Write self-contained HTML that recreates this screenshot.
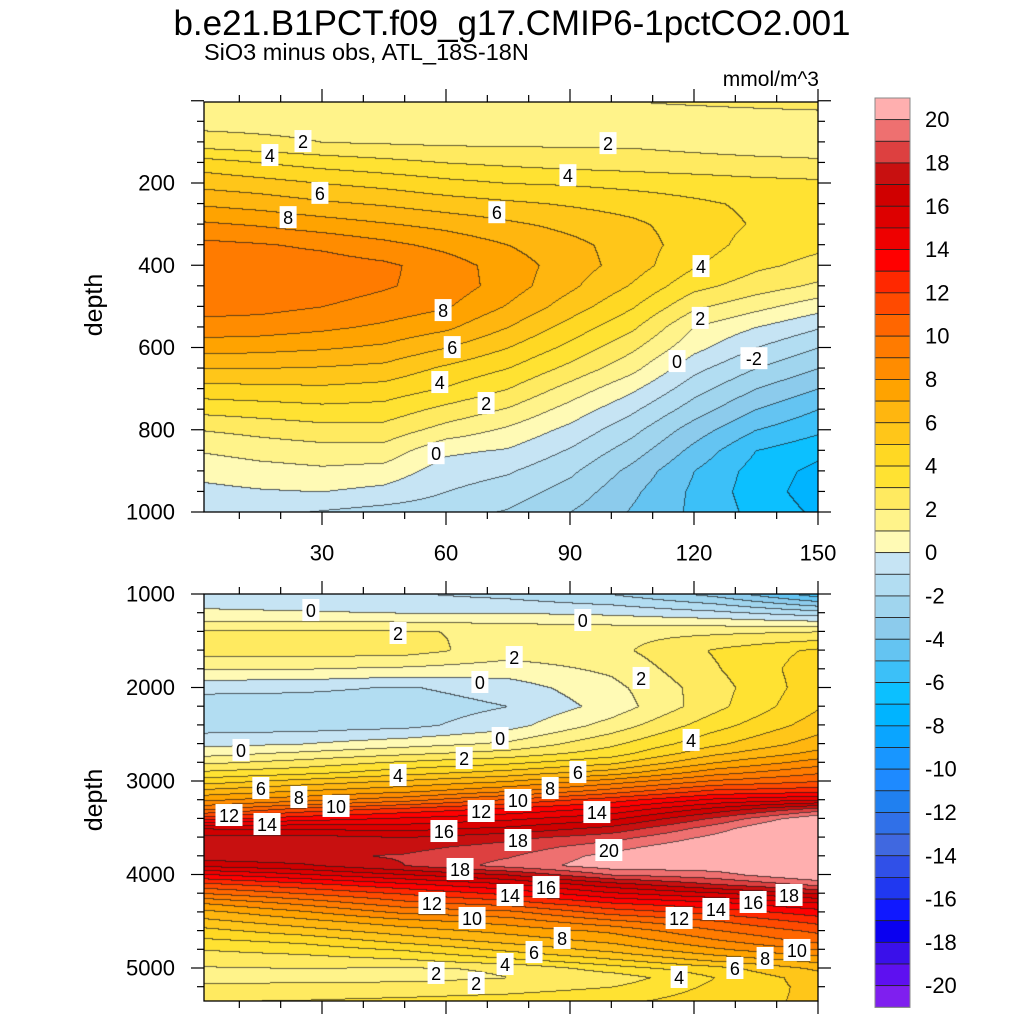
<!DOCTYPE html>
<html><head><meta charset="utf-8">
<style>
html,body{margin:0;padding:0;background:#fff;}
#wrap{position:relative;width:1024px;height:1024px;overflow:hidden;font-family:"Liberation Sans",sans-serif;}
canvas{position:absolute;}
svg{position:absolute;left:0;top:0;}
</style></head>
<body>
<div id="wrap">
<canvas id="cTop" style="left:204px;top:102px" width="614" height="410"></canvas>
<canvas id="cBot" style="left:204px;top:594px" width="614" height="407"></canvas>
<svg id="ov" width="1024" height="1024">
<text x="512" y="35" font-size="35" text-anchor="middle" font-family="Liberation Sans, sans-serif">b.e21.B1PCT.f09_g17.CMIP6-1pctCO2.001</text>
<text x="204" y="60" font-size="23.5" font-family="Liberation Sans, sans-serif">SiO3 minus obs, ATL_18S-18N</text>
<text x="819" y="86" font-size="21" text-anchor="end" font-family="Liberation Sans, sans-serif">mmol/m^3</text>
<text transform="translate(102,305) rotate(-90)" font-size="25" text-anchor="middle" font-family="Liberation Sans, sans-serif">depth</text>
<text transform="translate(102,800) rotate(-90)" font-size="25" text-anchor="middle" font-family="Liberation Sans, sans-serif">depth</text>
<g id="gTop"></g>
<g id="gBot"></g>
<g id="gCb"></g>
</svg>
</div>
<script>
// ---- data ----
const paletteLowToHigh = ['#7F1FEF','#5E10F0','#3A10EA','#0A00F0','#1018FF','#2038F0','#3050E8','#4068E0','#3070E8','#2080F0','#1E8AFF','#1896FF','#0AA5FF','#00B4FF','#0CC0FF','#3CC0F8','#64C4F2','#8CCBEC','#A0D5EE','#B2DDF2','#C6E4F4',
'#FFFAB5','#FFF38A','#FFEA60','#FFE232','#FFD823','#FFC619','#FFB60F','#FFA300','#FF8C00','#FF7B00','#FF6600','#FF4A00','#FF2800','#FF0000','#EE0000','#DD0000','#D00000','#C81010','#DD4040','#EE7070','#FFAFAF'];
const colorbarLabels = [20,18,16,14,12,10,8,6,4,2,0,-2,-4,-6,-8,-10,-12,-14,-16,-18,-20];

const xCols = [0,15,30,45,60,75,90,105,120,135,150];
const topDepths = [0,50,100,150,200,250,300,350,400,450,500,550,600,650,700,750,800,850,900,950,1000];
const topC0   = [1.5,1.7,2.4,4.5,5.7,6.9,8.2,9.3,9.6,9.7,9.4,8.6,7.4,6.0,4.6,3.3,2.0,1.05,0.3,-0.3,-0.6];
const topC15  = [1.5,1.7,2.2,4.0,5.4,6.6,7.9,9.1,9.6,9.7,9.3,8.5,7.3,6.0,4.7,3.5,2.3,1.4,0.6,-0.1,-0.7];
const topC30  = [1.6,1.7,2.0,3.6,5.0,6.2,7.5,8.8,9.5,9.5,9.0,8.2,7.1,5.9,4.8,3.7,2.6,1.6,0.8,0.0,-1.1];
const topC45  = [1.6,1.7,1.9,3.3,4.7,5.9,7.1,8.3,9.2,9.1,8.6,7.8,6.8,5.7,4.6,3.6,2.6,1.6,0.6,-0.3,-1.4];
const topC60  = [1.7,1.7,1.8,3.0,4.3,5.5,6.7,7.7,8.5,8.6,8.1,7.2,6.0,4.8,3.9,2.7,1.6,0.2,-0.5,-1.0,-1.6];
const topC75  = [1.8,1.7,1.8,2.8,4.0,5.2,6.2,7.0,7.5,7.5,6.9,6.0,5.0,4.0,3.0,1.9,0.8,-0.1,-0.9,-1.5,-2.1];
const topC90  = [1.9,1.7,1.8,2.6,3.9,4.9,5.7,6.3,6.5,6.2,5.5,4.6,3.7,2.7,1.6,0.6,-0.3,-1.1,-1.8,-2.4,-3.0];
const topC105 = [2.0,1.7,1.8,2.5,3.7,4.6,5.2,5.5,5.5,4.9,4.1,3.2,2.2,1.3,0.2,-0.8,-1.7,-2.5,-3.3,-3.8,-4.1];
const topC120 = [2.1,1.6,1.6,2.4,3.5,4.2,4.5,4.5,4.1,3.3,2.2,1.0,0.3,-0.7,-1.6,-2.5,-3.5,-4.3,-5.0,-5.2,-5.2];
const topC135 = [2.2,1.6,1.4,2.3,3.3,3.8,3.9,3.6,3.2,2.5,1.3,0.0,-1.0,-2.0,-3.0,-4.0,-5.0,-6.0,-6.4,-6.5,-6.3];
const topC150 = [2.3,1.6,1.3,2.2,3.2,3.5,3.5,3.2,2.7,1.8,0.4,-0.9,-2.0,-3.0,-4.0,-5.0,-5.8,-6.7,-7.3,-7.5,-7.2];

const botCols = [0,25,50,75,100,125,150];
const botDepths = [1000,1200,1400,1600,1800,2000,2200,2400,2600,2700,2800,2900,3000,3100,3200,3300,3400,3500,3600,3700,3800,3900,4000,4100,4200,4300,4400,4500,4600,4700,4800,4900,5000,5100,5200,5400];
const botC0   = [-0.6,0.2,2.1,2.5,1.0,-0.7,-1.6,-1.5,-0.3,0.6,1.8,3.1,4.5,6.2,7.8,9.8,12.7,15.9,17.3,17.8,17.6,16.2,13.8,11.7,9.9,8.0,6.6,5.6,4.6,3.8,3.0,2.4,1.9,1.6,2.2,3.2];
const botC25  = [-0.7,0.1,2.2,2.5,1.0,-0.8,-1.6,-1.5,0.0,1.2,2.4,3.6,5.4,7.0,8.7,11.4,13.6,15.8,17.4,17.9,17.8,16.8,14.8,12.7,11.0,9.3,7.8,6.6,5.5,4.3,3.4,2.6,2.0,1.7,2.3,3.3];
const botC50  = [-0.9,0.0,2.1,2.4,0.8,-1.1,-1.6,-1.3,0.6,1.8,3.2,4.5,6.2,7.7,9.7,12.4,14.2,15.6,17.0,17.7,18.1,18.0,15.9,13.8,12.1,10.7,9.2,7.6,6.5,5.4,4.1,3.0,1.9,1.7,2.4,3.5];
const botC75  = [-1.3,0.0,1.8,1.5,0.5,-0.5,-1.0,-0.4,1.2,2.4,3.8,5.3,7.0,8.8,11.2,13.3,14.8,16.2,17.7,18.4,18.9,19.4,17.0,14.9,13.2,11.5,9.7,8.4,7.3,6.4,5.2,3.9,2.1,2.0,2.6,3.7];
const botC100 = [-2.0,-0.2,1.7,1.7,1.2,0.7,0.4,1.4,2.8,3.5,4.8,6.4,8.5,10.4,12.6,14.3,15.8,17.3,18.6,19.6,20.4,20.6,19.0,16.6,14.8,13.0,11.4,9.7,8.2,7.3,6.3,5.0,3.5,2.4,3.0,4.0];
const botC125 = [-3.3,-0.7,1.8,3.1,2.9,2.6,2.7,3.6,4.8,5.8,7.0,8.5,10.2,12.2,14.3,16.4,18.2,19.5,20.3,21.0,21.0,20.6,19.6,18.0,15.8,13.8,12.3,10.9,9.9,8.9,7.8,6.4,4.6,4.0,4.2,4.6];
const botC150 = [-5.5,-1.5,2.0,4.2,4.6,4.6,4.9,5.5,6.5,7.3,8.5,9.8,11.0,12.6,15.0,18.5,21.0,22.0,22.0,22.0,22.0,21.8,21.0,19.3,17.0,15.0,13.5,12.3,11.2,10.4,9.0,7.5,6.2,5.5,5.3,5.2];

// contour labels: [x, depth, text]
const topLabels = [[25.4,98,'2'],[17.4,132,'4'],[29.5,224,'6'],[21.8,283,'8'],[99.2,103,'2'],[89.5,181,'4'],[72.3,271,'6'],[121.7,402,'4'],[59.3,509,'8'],[121.5,528,'2'],[61.5,599,'6'],[115.9,633,'0'],[134.5,626,'-2'],[58.5,684,'4'],[69.7,735,'2'],[57.6,857,'0']];
const botLabels = [[27.3,1171,'0'],[48.4,1417,'2'],[93.1,1278,'0'],[76.5,1674,'2'],[68.2,1941,'0'],[107.2,1898,'2'],[73.1,2540,'0'],[10.4,2668,'0'],[64.4,2754,'2'],[119.3,2561,'4'],[48.4,2936,'4'],[15.2,3075,'6'],[24.4,3171,'8'],[33.4,3267,'10'],[91.9,2904,'6'],[85.2,3075,'8'],[77.4,3203,'10'],[7.5,3364,'12'],[16.7,3460,'14'],[68.5,3321,'12'],[96.5,3332,'14'],[59.5,3535,'16'],[77.4,3631,'18'],[99.4,3738,'20'],[63.4,3941,'18'],[84.2,4134,'16'],[75.5,4219,'14'],[56.6,4305,'12'],[66.3,4465,'10'],[143,4219,'18'],[134.3,4294,'16'],[125.3,4369,'14'],[116.4,4465,'12'],[88.1,4679,'8'],[81.3,4829,'6'],[74.3,4957,'4'],[57.6,5053,'2'],[67.3,5160,'2'],[144.9,4807,'10'],[137.2,4893,'8'],[129.9,5000,'6'],[116.4,5096,'4']];

const xTickVals = [30,60,90,120,150];
const topYTicks = [200,400,600,800,1000];
const botYTicks = [1000,2000,3000,4000,5000];

// ---- scales ----
const PL=204, PR=818;
function xPx(x){return 198 + x*4.1333;}
function topPy(d){return 183 + (d-200)*0.41125;}
function topD(py){return 200 + (py-183)/0.41125;}
function botPy(d){return 594 + (d-1000)*0.0935;}
function botD(py){return 1000 + (py-594)/0.0935;}

function findIdx(arr,v){
  if(v<=arr[0]) return [0,0];
  if(v>=arr[arr.length-1]) return [arr.length-2,1];
  for(let i=0;i<arr.length-1;i++){ if(v<=arr[i+1]) return [i,(v-arr[i])/(arr[i+1]-arr[i])]; }
  return [arr.length-2,1];
}
function field(xs,ds,cols,x,d){
  const [i,tx]=findIdx(xs,x); const [j,td]=findIdx(ds,d);
  const a=cols[i][j],b=cols[i+1][j],c=cols[i][j+1],e=cols[i+1][j+1];
  return (a*(1-tx)+b*tx)*(1-td)+(c*(1-tx)+e*tx)*td;
}
function hex(h){return [parseInt(h.slice(1,3),16),parseInt(h.slice(3,5),16),parseInt(h.slice(5,7),16)];}
const palRGB = paletteLowToHigh.map(hex);
function lvl(v){let k=Math.floor(v);if(k<-21)k=-21;if(k>20)k=20;return k+21;}

function renderPanel(id,top,xs,ds,cols,dOf){
  const cv=document.getElementById(id); const W=cv.width,H=cv.height;
  const ctx=cv.getContext('2d'); const img=ctx.createImageData(W,H);
  const L=new Int16Array(W*H);
  for(let j=0;j<H;j++){const d=dOf(top+j+0.5);
    for(let i=0;i<W;i++){const x=(PL+i+0.5-198)/4.1333; L[j*W+i]=lvl(field(xs,ds,cols,x,d));}}
  for(let j=0;j<H;j++)for(let i=0;i<W;i++){
    const k=L[j*W+i]; let c=palRGB[k]; let edge=(i>0&&L[j*W+i-1]!==k)||(j>0&&L[(j-1)*W+i]!==k);
    const p=(j*W+i)*4; const f=edge?0.3:1;
    img.data[p]=c[0]*f+30*(1-f);img.data[p+1]=c[1]*f+30*(1-f);img.data[p+2]=c[2]*f+30*(1-f);img.data[p+3]=255;
  }
  ctx.putImageData(img,0,0);
}
const topGrid=[topC0,topC15,topC30,topC45,topC60,topC75,topC90,topC105,topC120,topC135,topC150];
const botGrid=[botC0,botC25,botC50,botC75,botC100,botC125,botC150];
renderPanel('cTop',102,xCols,topDepths,topGrid,topD);
renderPanel('cBot',594,botCols,botDepths,botGrid,botD);

// ---- axes ----
const NS='http://www.w3.org/2000/svg';
function mk(tag,attrs,parent){const e=document.createElementNS(NS,tag);for(const k in attrs)e.setAttribute(k,attrs[k]);parent.appendChild(e);return e;}
function line(g,x1,y1,x2,y2,name){const l=mk('line',{x1,y1,x2,y2,stroke:'#000','stroke-width':1.2},g);
  
  }
function txt(g,x,y,s,anchor,size,name){const t=mk('text',{x,y,'font-size':size,'text-anchor':anchor,'dominant-baseline':'central','font-family':'Liberation Sans, sans-serif'},g);t.textContent=s;
  
  }

function axes(g,top,bot,pyOf,dMin,dMax,minorStep,majorList,majorStep,showX,lblPrefix){
  const fr=mk('rect',{x:PL,y:top,width:PR-PL,height:bot-top,fill:'none',stroke:'#000','stroke-width':1.3},g);
  
  
  for(let x=10;x<=150;x+=10){const px=xPx(x);const major=(x%30===0);const len=major?13:7;
    line(g,px,top,px,top-len,lblPrefix+'-top-tick');line(g,px,bot,px,bot+len,lblPrefix+'-bottom-tick');}
  for(let d=Math.ceil(dMin/minorStep)*minorStep; d<=dMax; d+=minorStep){const py=pyOf(d);const major=(d%majorStep===0);const len=major?13:7;
    line(g,PL,py,PL-len,py,lblPrefix+'-left-tick');line(g,PR,py,PR+len,py,lblPrefix+'-right-tick');}
  majorList.forEach(d=>txt(g,175,pyOf(d),String(d),'end',22,lblPrefix+'-y-tick-label'));
  if(showX) xTickVals.forEach(x=>txt(g,xPx(x),553,String(x),'middle',22,'x-tick-label'));
}
axes(document.getElementById('gTop'),102,512,topPy,0,1000,50,topYTicks,200,true,'upper');
axes(document.getElementById('gBot'),594,1001,botPy,1000,5353,200,botYTicks,1000,false,'lower');

function labels(g,list,pyOf){
  list.forEach(([x,d,s])=>{const px=xPx(x),py=pyOf(d);const w=s.length*10+7,h=22;
    const r=mk('rect',{x:px-w/2,y:py-h/2,width:w,height:h,fill:'#fff'},g);
    
    
    txt(g,px,py+1,s,'middle',18,'contour-label');});
}
labels(document.getElementById('gTop'),topLabels,topPy);
labels(document.getElementById('gBot'),botLabels,botPy);

// ---- colorbar ----
const cb=document.getElementById('gCb');
const cbTop=98,cbH=21.65,cbX=875,cbW=35;
const nBox=paletteLowToHigh.length;
for(let k=0;k<nBox;k++){
  const col=paletteLowToHigh[nBox-1-k];
  const r=mk('rect',{x:cbX,y:cbTop+k*cbH,width:cbW,height:cbH,fill:col,stroke:'#222','stroke-width':0.8},cb);
  
  
}
const ob=mk('rect',{x:cbX,y:cbTop,width:cbW,height:nBox*cbH,fill:'none',stroke:'#888','stroke-width':1},cb);


colorbarLabels.forEach(v=>{const k=20-v+1;txt(cb,925,cbTop+k*cbH,String(v),'start',22,'colorbar-label');});
</script>
</body></html>
